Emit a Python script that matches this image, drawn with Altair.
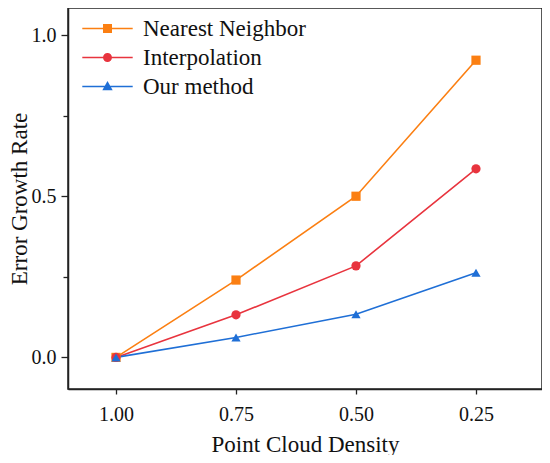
import altair as alt
import pandas as pd

density = [1.00, 0.75, 0.50, 0.25]
methods = ["Nearest Neighbor", "Interpolation", "Our method"]
nearest = [0.0, 0.24, 0.50, 0.922]
interp = [0.0, 0.132, 0.284, 0.585]
ours = [0.0, 0.062, 0.134, 0.263]
colors = ["#fb7f12", "#e8343e", "#1f6fd6"]
shapes = ["square", "circle", "triangle-up"]
x_ticks = [1.00, 0.75, 0.50, 0.25]
y_ticks = [0.0, 0.25, 0.5, 0.75, 1.0]

rows = []
for m, vals in zip(methods, [nearest, interp, ours]):
    for d, v in zip(density, vals):
        rows.append({"density": d, "rate": v, "method": m})
df = pd.DataFrame(rows)

FONT = "Liberation Serif"
# legend glyphs: thin horizontal bar (line) + marker, all filled, clockwise
L = 5.6
T = 0.17
bar = f"M-{L},-{T}H{L}V{T}H-{L}Z"
legend_paths = [
    bar + "M-1,-1H1V1H-1Z",
    bar + "M-1,0A1,1,0,1,1,1,0A1,1,0,1,1,-1,0Z",
    bar + "M0,-1.2L1.15,0.85H-1.15Z",
]

x = alt.X("density:Q", title="Point Cloud Density",
          scale=alt.Scale(domain=[1.1, 0.1125], nice=False, zero=False),
          axis=alt.Axis(values=x_ticks, format=".2f", grid=False, labelPadding=10))
y = alt.Y("rate:Q", title="Error Growth Rate",
          scale=alt.Scale(domain=[-0.098, 1.084], nice=False, zero=False),
          axis=alt.Axis(values=y_ticks, grid=False,
                        labelExpr="datum.value % 0.5 == 0 ? format(datum.value, '.1f') : ''",
                        tickSize={"condition": {"test": "datum.value % 0.5 != 0", "value": 5}, "value": 7}))

base = alt.Chart(df)
lines = base.mark_line(strokeWidth=1.6).encode(
    x=x, y=y,
    color=alt.Color("method:N", scale=alt.Scale(domain=methods, range=colors), legend=None),
    detail="method:N",
)
points = base.mark_point(filled=True, size=85, opacity=1).encode(
    x=x, y=y,
    color=alt.Color("method:N", scale=alt.Scale(domain=methods, range=colors), legend=None),
    shape=alt.Shape("method:N", scale=alt.Scale(domain=methods, range=shapes), legend=None),
)
leg = base.transform_filter("false").mark_point(filled=True, opacity=1).encode(
    color=alt.Color("method:N", scale=alt.Scale(domain=methods, range=colors),
                    legend=alt.Legend(title=None)),
    shape=alt.Shape("method:N", scale=alt.Scale(domain=methods, range=legend_paths),
                    legend=alt.Legend(title=None)),
)

chart = alt.layer(lines, points, leg).resolve_scale(
    shape="independent", color="independent"
).properties(
    width=474, height=381,
    autosize=alt.AutoSizeParams(type="none"),
    padding={"left": 60, "top": 0, "right": 0, "bottom": 66},
).configure_view(
    stroke="#222", strokeWidth=1.5
).configure_axis(
    labelFont=FONT, labelFontSize=20, labelColor="#111",
    titleFont=FONT, titleFontSize=23, titleFontWeight="normal", titleColor="#111",
    domainColor="#222", domainWidth=1.5, tickColor="#222", tickWidth=1.3,
    labelPadding=5,
).configure_axisX(
    titlePadding=9,
).configure_axisY(
    titlePadding=0,
).configure_legend(
    orient="none", legendX=28, legendY=9,
    symbolSize=81, symbolStrokeWidth=0,
    labelOffset=24, rowPadding=5, padding=0, labelLimit=400,
    labelFont=FONT, labelFontSize=23, labelColor="#111",
)

chart.save("out.html", embed_options={"renderer": "svg", "actions": False})
